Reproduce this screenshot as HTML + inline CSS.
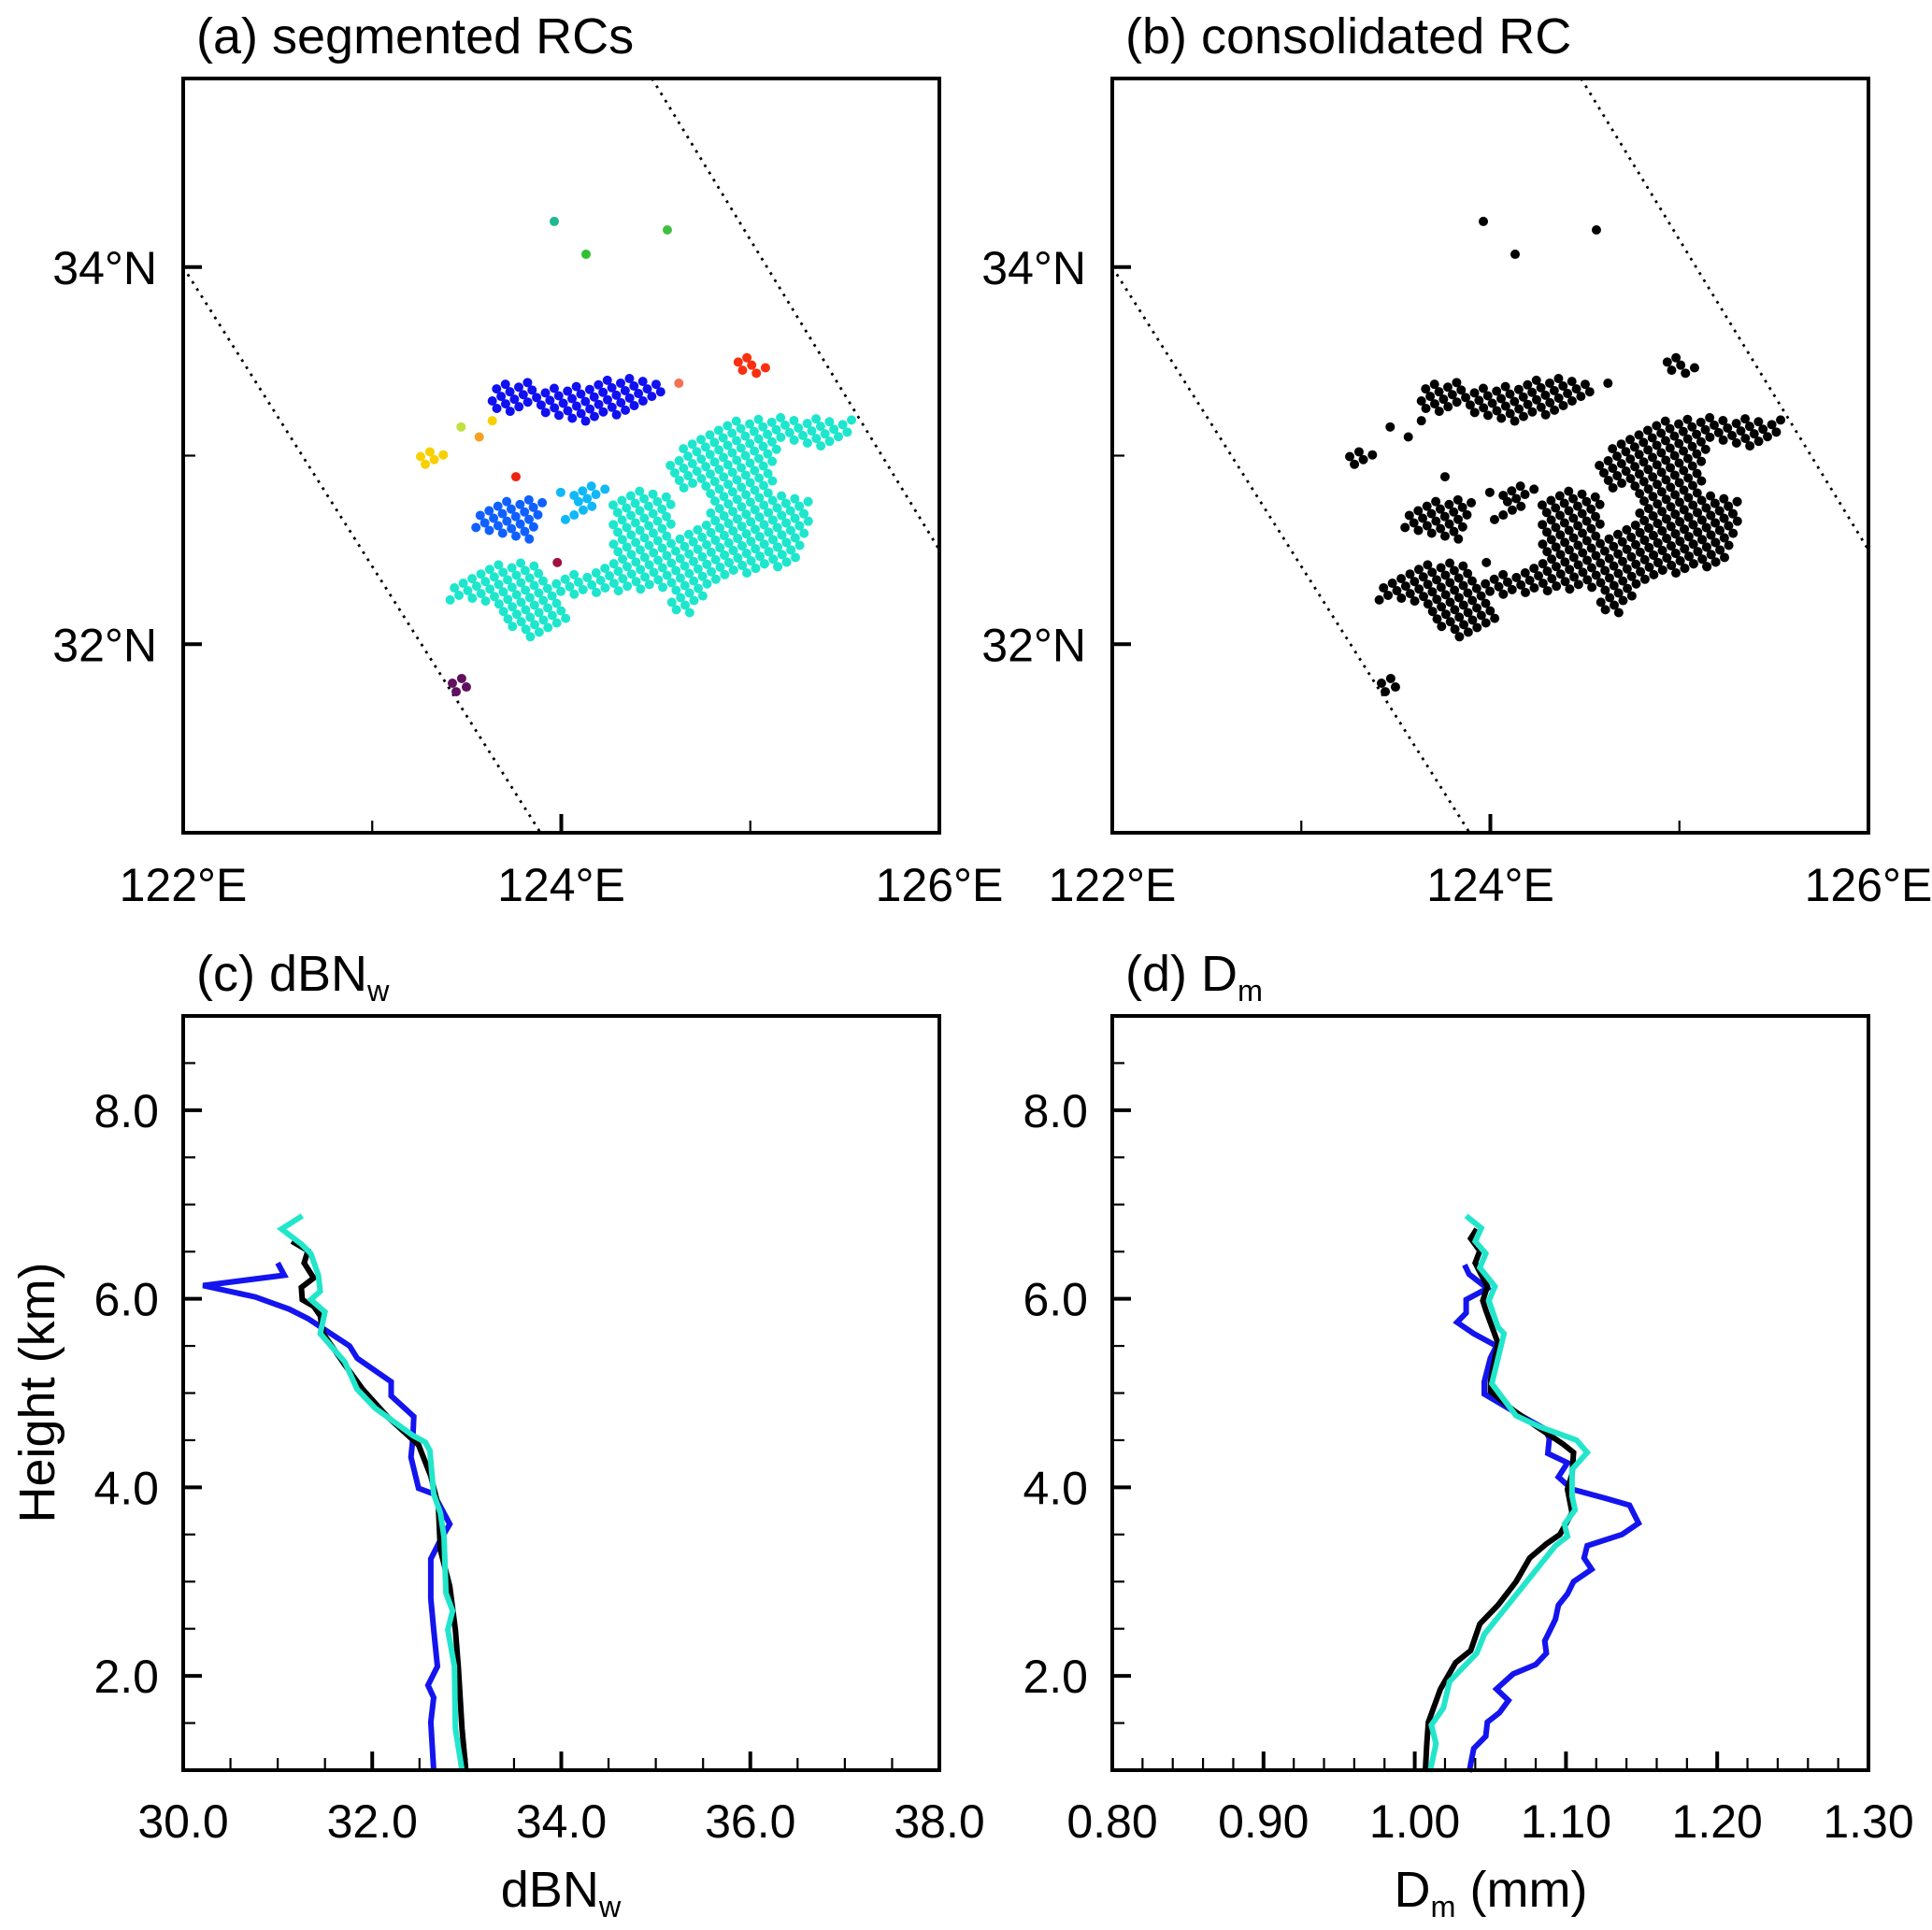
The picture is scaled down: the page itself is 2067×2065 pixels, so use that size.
<!DOCTYPE html>
<html><head><meta charset="utf-8"><style>
html,body{margin:0;padding:0;background:#fff;}
svg{display:block;}
text{font-family:"Liberation Sans",sans-serif;fill:#000;}
</style></head><body>
<svg id="fig" width="2067" height="2065" viewBox="0 0 2067 2065" xmlns="http://www.w3.org/2000/svg"></svg>
<script>
// ---------- data: map (lon/lat) ----------
const cyanPoly1 = [[123.388,32.243],[123.569,32.400],[123.750,32.425],[123.890,32.392],[123.940,32.301],[124.030,32.160],[123.849,32.045],[123.734,32.103],[123.651,32.210],[123.454,32.260]];
const cyanPoly2 = [[123.989,32.359],[124.211,32.359],[124.277,32.458],[124.277,32.772],[124.376,32.797],[124.582,32.772],[124.557,32.607],[124.524,32.524],[124.804,32.657],[125.299,32.756],[125.315,32.739],[125.216,32.425],[124.953,32.392],[124.772,32.326],[124.739,32.260],[124.681,32.169],[124.607,32.185],[124.574,32.309],[124.426,32.293],[124.195,32.276],[123.997,32.268]];
const cyanPoly3 = [[124.557,32.946],[124.739,33.086],[124.928,33.185],[125.521,33.177],[125.488,33.094],[125.389,33.050],[125.183,33.086],[125.109,33.004],[125.101,32.805],[125.315,32.764],[125.200,32.433],[124.903,32.392],[124.788,32.557],[124.788,32.805],[124.739,32.855],[124.648,32.822],[124.574,32.905]];
const blueTopPoly = [[123.618,33.293],[123.651,33.359],[123.816,33.392],[123.882,33.334],[124.080,33.351],[124.310,33.392],[124.524,33.384],[124.541,33.334],[124.409,33.268],[124.178,33.194],[124.055,33.185],[123.981,33.210],[123.882,33.260],[123.816,33.268],[123.734,33.227],[123.651,33.271]];
const blueMidPoly = [[123.544,32.627],[123.610,32.723],[123.832,32.775],[123.907,32.756],[123.865,32.623],[123.841,32.562],[123.758,32.574],[123.552,32.615]];
const lightBlueLon = [123.997,124.068,124.113,124.159,124.231,124.091,124.137,124.183,124.116,124.162,124.068,124.022];
const lightBlueLat = [32.805,32.789,32.813,32.838,32.822,32.756,32.772,32.794,32.711,32.731,32.685,32.661];
const yellowLon = [123.256,123.305,123.376,123.281,123.328];
const yellowLat = [32.995,33.020,33.004,32.954,32.979];
const redLon = [124.936,124.982,125.007,124.959,125.032,125.080];
const redLat = [33.496,33.519,33.480,33.453,33.437,33.466];
const purpleLon = [123.424,123.473,123.498,123.444];
const purpleLat = [31.793,31.818,31.773,31.748];
const singleLon = [123.635,123.470,123.566,123.760,124.622,123.979,123.963,124.561,124.131];
const singleLat = [33.185,33.152,33.099,32.888,33.384,32.433,34.242,34.197,34.068];
const singleColor = ['#f8d000','#c0e040','#f8a020','#f02010','#f87050','#a01040','#20b890','#40c040','#30c030'];
const dotLine1Lon = [122.0,123.89], dotLine1Lat = [34.0,31.0];
const dotLine2Lon = [124.48,126.0], dotLine2Lat = [35.0,32.5];

// ---------- data: profiles ----------
const cHeight_black = [1.0,1.44,2.1,2.49,2.95,3.34,3.8,4.12,4.45,4.75,5.04,5.3,5.63,5.82,5.92,5.99,6.12,6.22,6.38,6.51,6.61];
const cValue_black  = [32.99,32.95,32.91,32.88,32.82,32.72,32.70,32.62,32.49,32.16,31.90,31.71,31.48,31.45,31.38,31.26,31.25,31.38,31.28,31.32,31.15];
const cHeight_cyan = [1.0,1.44,2.1,2.49,2.69,2.88,3.47,3.73,3.93,4.39,4.48,4.55,4.84,5.04,5.33,5.63,5.86,5.99,6.08,6.25,6.48,6.58,6.74,6.88];
const cValue_cyan  = [32.95,32.88,32.87,32.80,32.85,32.78,32.76,32.72,32.65,32.61,32.56,32.43,32.03,31.84,31.71,31.45,31.50,31.35,31.45,31.43,31.35,31.25,31.04,31.26];
const cHeight_blue = [1.0,1.51,1.77,1.9,2.1,2.49,2.82,3.24,3.44,3.61,3.93,3.99,4.32,4.52,4.75,4.97,5.12,5.37,5.50,5.79,5.89,6.02,6.14,6.25,6.38];
const cValue_blue  = [32.65,32.62,32.65,32.59,32.69,32.65,32.62,32.62,32.72,32.82,32.65,32.49,32.41,32.43,32.44,32.20,32.20,31.84,31.76,31.32,31.12,30.76,30.21,31.07,31.00];

const dHeight_black = [0.98,1.28,1.51,1.86,2.14,2.27,2.55,2.75,3.0,3.25,3.4,3.5,3.73,3.98,4.14,4.37,4.46,4.64,4.82,5.02,5.12,5.53,5.88,5.98,6.13,6.38,6.51,6.64,6.74];
const dValue_black  = [1.007,1.008,1.009,1.017,1.027,1.037,1.043,1.055,1.067,1.076,1.087,1.096,1.104,1.101,1.104,1.105,1.098,1.081,1.065,1.050,1.050,1.055,1.047,1.045,1.048,1.040,1.043,1.037,1.041];
const dHeight_cyan = [0.98,1.28,1.48,1.66,1.94,2.24,2.44,2.70,3.1,3.38,3.48,3.61,3.76,3.91,4.19,4.37,4.5,4.64,4.76,5.10,5.63,5.70,5.98,6.13,6.33,6.48,6.61,6.75,6.88];
const dValue_cyan  = [1.010,1.014,1.011,1.019,1.023,1.041,1.046,1.059,1.079,1.093,1.101,1.099,1.106,1.104,1.104,1.114,1.107,1.083,1.067,1.051,1.059,1.055,1.049,1.053,1.043,1.047,1.040,1.044,1.034];
const dHeight_blue = [0.98,1.23,1.36,1.51,1.61,1.74,1.86,2.02,2.12,2.24,2.37,2.60,2.75,2.87,3.0,3.13,3.25,3.38,3.50,3.62,3.81,3.88,3.98,4.11,4.26,4.36,4.52,4.62,4.79,4.99,5.12,5.37,5.50,5.63,5.75,5.85,5.99,6.11,6.26,6.36];
const dValue_blue  = [1.036,1.039,1.047,1.048,1.056,1.062,1.054,1.065,1.080,1.087,1.086,1.093,1.095,1.101,1.105,1.117,1.112,1.114,1.137,1.148,1.142,1.127,1.104,1.095,1.101,1.088,1.089,1.086,1.067,1.046,1.046,1.050,1.054,1.039,1.028,1.034,1.034,1.048,1.036,1.033];

const cXTicks = [30,32,34,36,38];
const cXLabels = ['30.0','32.0','34.0','36.0','38.0'];
const dXTicks = [0.8,0.9,1.0,1.1,1.2,1.3];
const dXLabels = ['0.80','0.90','1.00','1.10','1.20','1.30'];
const yTicks = [2,4,6,8];
const yLabels = ['2.0','4.0','6.0','8.0'];
const lonTicks = [122,124,126];
const lonLabels = ['122°E','124°E','126°E'];
const latTicks = [32,34];
const latLabels = ['32°N','34°N'];

// ---------- layout ----------
const NS = 'http://www.w3.org/2000/svg';
const svg = document.getElementById('fig');
const PW = 809;
const colX = [196, 1190];
const mapTop = 84, mapBot = 891, prTop = 1087, prBot = 1894;
const TL = 50;

function mk(tag, attrs, parent){
  const e = document.createElementNS(NS, tag);
  for (const k in attrs) e.setAttribute(k, attrs[k]);
  (parent||svg).appendChild(e);
  return e;
}
function mapX(x0, lon){ return x0 + (lon-122)/4*PW; }
function mapY(lat){ return mapTop + (35-lat)/4*(mapBot-mapTop); }

function frame(x0, y0, y1, name){
  const r = mk('rect', {x:x0, y:y0, width:PW, height:y1-y0, fill:'none', stroke:'#000', 'stroke-width':4});
  
  
}
function txt(x, y, s, size, anchor, name){
  const t = mk('text', {x:x, y:y, 'font-size':size, 'text-anchor':anchor||'start'});
  t.textContent = s;
  
  
  return t;
}
function tick(x1,y1,x2,y2,w,name){
  const l = mk('line',{x1:x1,y1:y1,x2:x2,y2:y2,stroke:'#000','stroke-width':w});
  
  
}

function inside(px, py, poly){
  let c = false;
  for (let i=0,j=poly.length-1;i<poly.length;j=i++){
    const [xi,yi]=poly[i],[xj,yj]=poly[j];
    if (((yi>py)!==(yj>py)) && (px < (xj-xi)*(py-yi)/(yj-yi)+xi)) c=!c;
  }
  if (c) return true;
  for (let i=0,j=poly.length-1;i<poly.length;j=i++){
    const [x1,y1]=poly[j],[x2,y2]=poly[i];
    const dx=x2-x1, dy=y2-y1, L=dx*dx+dy*dy;
    let t = L? ((px-x1)*dx+(py-y1)*dy)/L : 0; t=Math.max(0,Math.min(1,t));
    const ex=x1+t*dx-px, ey=y1+t*dy-py;
    if (ex*ex+ey*ey < 16) return true;
  }
  return false;
}

function drawMap(pi){
  const x0 = colX[pi];
  const mono = pi===1;
  [[dotLine1Lon,dotLine1Lat],[dotLine2Lon,dotLine2Lat]].forEach((d,k)=>{
    const l = mk('line',{x1:mapX(x0,d[0][0]),y1:mapY(d[1][0]),x2:mapX(x0,d[0][1]),y2:mapY(d[1][1]),stroke:'#000','stroke-width':2.8,'stroke-dasharray':'2.8 6.2','stroke-linecap':'butt'});
    
    
  });
  const g = mk('g', {});
  
  
  const R = 5;
  function dot(lon, lat, col){
    const c = mk('circle',{cx:mapX(x0,lon),cy:mapY(lat),r:R,fill:mono?'#000':col}, g);
    
    
  }
  function dotPx(x,y,col){
    const c = mk('circle',{cx:x,cy:y,r:R,fill:mono?'#000':col}, g);
    
    
  }
  const polys = [[cyanPoly1,'#1ee6cc'],[cyanPoly2,'#1ee6cc'],[cyanPoly3,'#1ee6cc'],[blueTopPoly,'#1010f0'],[blueMidPoly,'#1060ff']];
  const ox = x0 + 330.7, oy = mapTop + 345;
  const ux=9.43, uy=-4.92, vx=4.83, vy=8.0;
  polys.forEach(([poly,col])=>{
    const pp = poly.map(p=>[mapX(x0,p[0]),mapY(p[1])]);
    for (let a=-80;a<=80;a++) for (let b=-60;b<=60;b++){
      const px = ox + a*ux + b*vx, py = oy + a*uy + b*vy;
      if (px<x0||px>x0+PW||py<mapTop||py>mapBot) continue;
      if (inside(px,py,pp)) dotPx(px,py,col);
    }
  });
  lightBlueLon.forEach((v,i)=>dot(v, lightBlueLat[i], '#10b8f8'));
  yellowLon.forEach((v,i)=>dot(v, yellowLat[i], '#f8d000'));
  redLon.forEach((v,i)=>dot(v, redLat[i], '#f83010'));
  purpleLon.forEach((v,i)=>dot(v, purpleLat[i], '#601060'));
  singleLon.forEach((v,i)=>dot(v, singleLat[i], singleColor[i]));

  frame(x0, mapTop, mapBot, mono?'map-frame-b':'map-frame-a');
  [123,124,125].forEach(lon=>{
    const major = lon===124;
    tick(mapX(x0,lon), mapBot, mapX(x0,lon), mapBot-(major?20:13), major?4:2.2, 'lon-tick');
  });
  [32,33,34].forEach(lat=>{
    const major = lat!==33;
    tick(x0, mapY(lat), x0+(major?20:13), mapY(lat), major?4:2.2, 'lat-tick');
  });
  lonTicks.forEach((lon,i)=>txt(mapX(x0,lon), 964, lonLabels[i], TL, 'middle', 'lon-tick-label'));
  latTicks.forEach((lat,i)=>txt(x0-28, mapY(lat)+18, latLabels[i], TL, 'end', 'lat-tick-label'));
}

function drawProfile(pi){
  const x0 = colX[pi];
  const isC = pi===0;
  const xmin = isC?30:0.8, xmax = isC?38:1.3;
  const sx = v => x0 + (v-xmin)/(xmax-xmin)*PW;
  const sy = h => prBot - (h-1)/8*(prBot-prTop);
  const series = isC
    ? [[cValue_blue,cHeight_blue,'#1414ee','blue'],[cValue_black,cHeight_black,'#000','black'],[cValue_cyan,cHeight_cyan,'#22e6cc','cyan']]
    : [[dValue_blue,dHeight_blue,'#1414ee','blue'],[dValue_black,dHeight_black,'#000','black'],[dValue_cyan,dHeight_cyan,'#22e6cc','cyan']];
  series.forEach(([xs,hs,col,nm])=>{
    const d = xs.map((v,i)=>(i?'L':'M')+sx(v).toFixed(1)+','+sy(hs[i]).toFixed(1)).join(' ');
    const p = mk('path',{d:d,fill:'none',stroke:col,'stroke-width':6,'stroke-linejoin':'miter','stroke-miterlimit':3});
    
    
  });
  frame(x0, prTop, prBot, isC?'plot-frame-c':'plot-frame-d');
  for (let h=1.5; h<9; h+=0.5){
    const major = Math.abs(h-Math.round(h/2)*2)<1e-6;
    tick(x0, sy(h), x0+(major?20:13), sy(h), major?4:2.2, 'y-tick');
  }
  yTicks.forEach((h,i)=>txt(x0-26, sy(h)+18, yLabels[i], TL, 'end', 'y-tick-label'));
  const minorStep = isC?0.5:0.02;
  const n = Math.round((xmax-xmin)/minorStep);
  const majEvery = isC?4:5;
  for (let k=1;k<n;k++){
    const v = xmin + k*minorStep;
    const major = k%majEvery===0;
    tick(sx(v), prBot, sx(v), prBot-(major?20:13), major?4:2.2, 'x-tick');
  }
  const xt = isC?cXTicks:dXTicks, xl = isC?cXLabels:dXLabels;
  xt.forEach((v,i)=>txt(sx(v), 1966, xl[i], TL, 'middle', 'x-tick-label'));
}

drawMap(0); drawMap(1); drawProfile(0); drawProfile(1);

function richTitle(x, y, main, sub, after, size, anchor, name){
  const t = mk('text',{x:x,y:y,'font-size':size,'text-anchor':anchor});
  
  
  const a = mk('tspan',{}, t); a.textContent = main;
  if (sub){ const s = mk('tspan',{'font-size':size*0.6,dy:11}, t); s.textContent = sub; }
  if (after){ const b = mk('tspan',{dy:-11}, t); b.textContent = after; }
}
richTitle(210, 57, '(a) segmented RCs', '', '', 54, 'start', 'panel-a-title');
richTitle(1204, 57, '(b) consolidated RC', '', '', 54, 'start', 'panel-b-title');
richTitle(210, 1060, '(c) dBN', 'w', '', 54, 'start', 'panel-c-title');
richTitle(1204, 1060, '(d) D', 'm', '', 54, 'start', 'panel-d-title');
richTitle(600, 2040, 'dBN', 'w', '', 54, 'middle', 'x-axis-title-c');
richTitle(1595, 2040, 'D', 'm', ' (mm)', 54, 'middle', 'x-axis-title-d');
const yt = txt(0, 0, 'Height (km)', 54, 'middle', 'y-axis-title');
yt.setAttribute('transform', 'translate(58,1490) rotate(-90)');
</script>
</body></html>
